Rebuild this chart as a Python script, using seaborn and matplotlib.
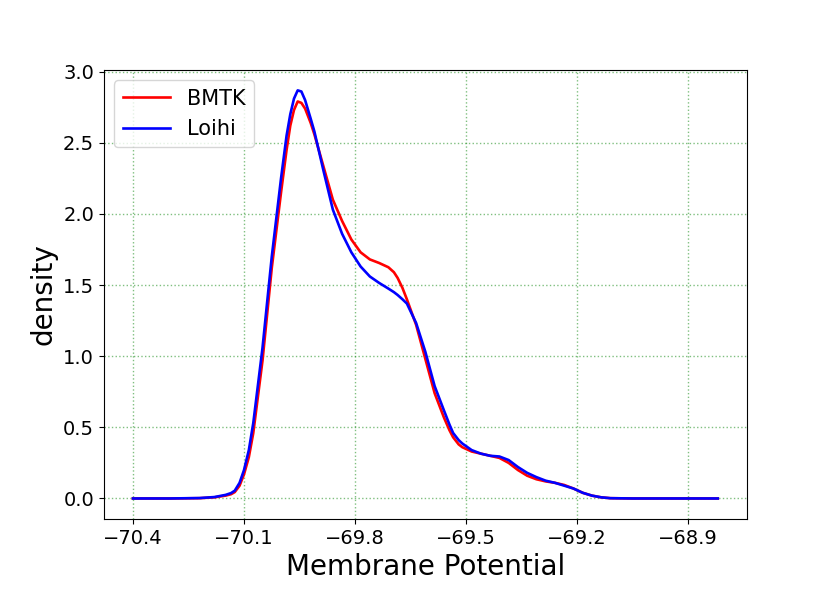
import pandas as pd
import matplotlib
matplotlib.use("Agg")
import matplotlib.pyplot as plt
import seaborn as sns

# membrane potential grid (mV)
potential = [-70.40, -70.30, -70.22, -70.18, -70.15, -70.135, -70.125, -70.112, -70.10, -70.087,
             -70.075, -70.05, -70.025, -70.00, -69.985, -69.975, -69.965, -69.955, -69.945, -69.935,
             -69.92, -69.91, -69.885, -69.86, -69.835, -69.81, -69.785, -69.76, -69.735, -69.71,
             -69.695, -69.685, -69.672, -69.66, -69.635, -69.61, -69.585, -69.56, -69.545, -69.535,
             -69.52, -69.51, -69.485, -69.46, -69.435, -69.41, -69.385, -69.36, -69.335, -69.31,
             -69.285, -69.26, -69.235, -69.21, -69.185, -69.16, -69.135, -69.11, -69.05, -68.95,
             -68.82]

bmtk = [0.0, 0.0, 0.002, 0.008, 0.02, 0.03, 0.045, 0.09, 0.17, 0.29,
        0.46, 0.97, 1.62, 2.15, 2.45, 2.62, 2.73, 2.79, 2.78, 2.74,
        2.64, 2.56, 2.33, 2.10, 1.95, 1.82, 1.73, 1.68, 1.655, 1.625,
        1.59, 1.55, 1.48, 1.40, 1.22, 0.98, 0.74, 0.57, 0.48, 0.43,
        0.38, 0.36, 0.33, 0.315, 0.30, 0.285, 0.25, 0.20, 0.16, 0.135,
        0.12, 0.11, 0.095, 0.07, 0.04, 0.02, 0.008, 0.002, 0.0, 0.0,
        0.0]

loihi = [0.0, 0.0, 0.003, 0.01, 0.025, 0.038, 0.055, 0.11, 0.20, 0.34,
         0.53, 1.06, 1.70, 2.25, 2.55, 2.70, 2.81, 2.868, 2.86, 2.80,
         2.67, 2.58, 2.30, 2.03, 1.86, 1.73, 1.63, 1.56, 1.515, 1.475,
         1.45, 1.43, 1.40, 1.37, 1.233, 1.03, 0.79, 0.62, 0.52, 0.46,
         0.41, 0.386, 0.34, 0.315, 0.30, 0.295, 0.27, 0.221, 0.18, 0.15,
         0.125, 0.11, 0.09, 0.07, 0.04, 0.02, 0.008, 0.002, 0.0, 0.0,
         0.0]

df = pd.concat([
    pd.DataFrame({"potential": potential, "density": bmtk, "model": "BMTK"}),
    pd.DataFrame({"potential": potential, "density": loihi, "model": "Loihi"}),
])

fig, ax = plt.subplots(figsize=(8.3, 5.93), dpi=100)
fig.subplots_adjust(left=0.125, right=0.9, top=0.882, bottom=0.125)

sns.lineplot(data=df, x="potential", y="density", hue="model",
             palette={"BMTK": "red", "Loihi": "blue"}, linewidth=1.9, ax=ax)

ax.set_xticks([-70.4, -70.1, -69.8, -69.5, -69.2, -68.9])
ax.set_yticks([0.0, 0.5, 1.0, 1.5, 2.0, 2.5, 3.0])
ax.tick_params(labelsize=14)
ax.grid(True, color="g", linestyle=":", alpha=0.5, linewidth=1)
ax.set_xlabel("Membrane Potential", fontsize=20)
ax.set_ylabel("density", fontsize=20)

handles, labels = ax.get_legend_handles_labels()
ax.legend(handles, labels, loc="upper left", fontsize=15, handlelength=2.3)

fig.savefig("out.png", dpi=100)
